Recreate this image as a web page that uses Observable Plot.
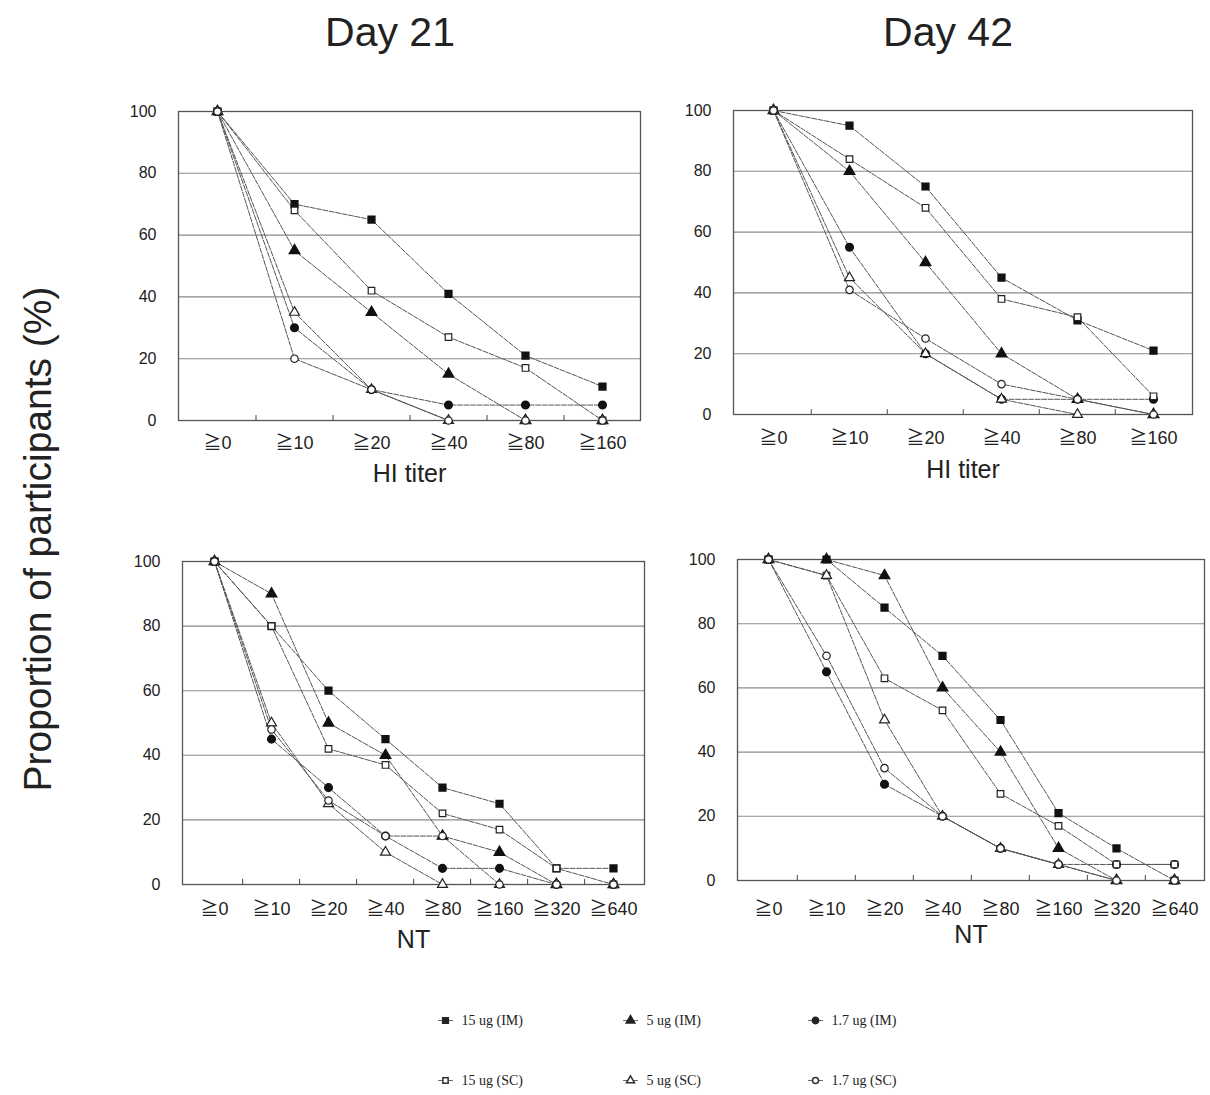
<!DOCTYPE html>
<html><head><meta charset="utf-8">
<script src="https://cdn.jsdelivr.net/npm/d3@7"></script>
<script src="https://cdn.jsdelivr.net/npm/@observablehq/plot@0.6"></script>
<style>
body{margin:0;background:#fff;}
#root{position:relative;width:1210px;height:1095px;overflow:hidden;font-family:"Liberation Sans",Arial,sans-serif;color:#222;}
.abs{position:absolute;}
.title{font-size:41px;transform:translateX(-50%);white-space:nowrap;line-height:1;}
.ylab{font-size:39px;white-space:nowrap;transform:translate(-50%,-50%) rotate(-90deg);line-height:1;}
svg{overflow:visible;}
</style></head><body><div id="root"></div>
<script>
// Categories
const hiTiters = ["≧0","≧10","≧20","≧40","≧80","≧160"];
const ntTiters = ["≧0","≧10","≧20","≧40","≧80","≧160","≧320","≧640"];
const groups = ["15 ug (IM)","5 ug (IM)","1.7 ug (IM)","15 ug (SC)","5 ug (SC)","1.7 ug (SC)"];
const groupSymbols = ["square","triangle","circle","square","triangle","circle"];
const groupFilled = [true,true,true,false,false,false];
const yTicks = [0,20,40,60,80,100];
const gridLines = [20,40,60,80];

// Series values, in groups order: 15IM, 5IM, 1.7IM, 15SC, 5SC, 1.7SC
const day21HI = [
  [100,70,65,41,21,11],
  [100,55,35,15,0,0],
  [100,30,10,5,5,5],
  [100,68,42,27,17,0],
  [100,35,10,0,0,0],
  [100,20,10,0,0,0]
];
const day42HI = [
  [100,95,75,45,31,21],
  [100,80,50,20,5,0],
  [100,55,20,5,5,5],
  [100,84,68,38,32,6],
  [100,45,20,5,0,0],
  [100,41,25,10,5,0]
];
const day21NT = [
  [100,80,60,45,30,25,5,5],
  [100,90,50,40,15,10,0,0],
  [100,45,30,15,5,5,0,0],
  [100,80,42,37,22,17,5,0],
  [100,50,25,10,0,0,0,0],
  [100,48,26,15,15,0,0,0]
];
const day42NT = [
  [100,100,85,70,50,21,10,0],
  [100,100,95,60,40,10,0,0],
  [100,65,30,20,10,5,5,5],
  [100,95,63,53,27,17,5,5],
  [100,95,50,20,10,5,0,0],
  [100,70,35,20,10,5,0,0]
];
const titles = ["Day 21","Day 42"];
const yLabel = "Proportion of participants (%)";
const legendCols = ["15 ug","5 ug","1.7 ug"];
const legendRows = ["IM","SC"];

const root = document.getElementById("root");
const FONT = "'Liberation Sans', Arial, 'Noto Sans CJK JP', sans-serif";

function addDiv(cls, text, x, y){
  const d = document.createElement("div");
  d.className = "abs " + cls; d.textContent = text;
  d.style.left = x + "px"; d.style.top = y + "px";
  root.appendChild(d);
}

function panel({data, titers, fl, fr, ft, fb, label, tickPad, labelDy}){
  const left = fl - 80, top = ft - 20;
  const width = fr - left + 8, height = fb - top + 85;
  const rows = [];
  data.forEach((vals, gi) => vals.forEach((v, i) => rows.push({group: groups[gi], gi, titer: titers[i], value: v})));
  const step = (fr - fl) / titers.length;
  const sym = {domain: groups, range: groupSymbols};
  const p = Plot.plot({
    width, height,
    marginLeft: fl - left, marginRight: width - (fr - left),
    marginTop: ft - top, marginBottom: height - (fb - top),
    style: {fontFamily: FONT, color: "#222", background: "transparent", overflow: "visible"},
    x: {type: "point", domain: titers, padding: 0.5},
    y: {domain: [0, 100]},
    symbol: sym,
    marks: [
      Plot.ruleY(gridLines, {stroke: "#8a8a8a", strokeWidth: 1.1}),
      Plot.frame({stroke: "#555", strokeWidth: 1.3}),
      Plot.ruleX(titers.slice(1), {y1: 0, y2: 1.6, dx: -step / 2, stroke: "#444"}),
      Plot.axisY(yTicks, {tickSize: 0, tickPadding: 22, fontSize: 16, label: null}),
      Plot.axisX({tickSize: 0, tickPadding: tickPad, fontSize: 18, label: null}),
      Plot.text([label], {frameAnchor: "bottom", dy: labelDy, fontSize: 25, fill: "#222"}),
      Plot.line(rows, {x: "titer", y: "value", z: "group", stroke: "#555", strokeWidth: 1, strokeDasharray: "5,1.5"}),
      Plot.dot(rows.filter(d => groupFilled[d.gi]), {x: "titer", y: "value", symbol: "group", r: 3.8, fill: "#111", stroke: "#111"}),
      Plot.dot(rows.filter(d => !groupFilled[d.gi]), {x: "titer", y: "value", symbol: "group", r: 3.7, fill: "white", stroke: "#222", strokeWidth: 1.2})
    ]
  });
  p.style.position = "absolute";
  p.style.left = left + "px"; p.style.top = top + "px";
  root.appendChild(p);
}

addDiv("title", titles[0], 390, 12);
addDiv("title", titles[1], 948, 12);
addDiv("ylab", yLabel, 37, 539);

panel({data: day21HI, titers: hiTiters, fl: 178, fr: 640, ft: 111, fb: 420, label: "HI titer", tickPad: 16, labelDy: 61});
panel({data: day42HI, titers: hiTiters, fl: 733, fr: 1192, ft: 110, fb: 414, label: "HI titer", tickPad: 17, labelDy: 63});
panel({data: day21NT, titers: ntTiters, fl: 182, fr: 644, ft: 561, fb: 884, label: "NT", tickPad: 18, labelDy: 63});
panel({data: day42NT, titers: ntTiters, fl: 737, fr: 1204, ft: 559, fb: 880, label: "NT", tickPad: 22, labelDy: 62});

// Legend
const legendItems = [];
legendRows.forEach((r, ri) => legendCols.forEach((c, ci) => {
  const gi = ri * 3 + ci;
  legendItems.push({col: ci, row: r, gi, group: groups[gi], label: groups[gi]});
}));
const legend = Plot.plot({
  width: 1210, height: 110,
  marginLeft: 445, marginRight: 1210 - 815, marginTop: 25, marginBottom: 25,
  style: {fontFamily: "'Liberation Serif', 'Times New Roman', serif", color: "#222", background: "transparent", overflow: "visible"},
  x: {domain: [0, 2], axis: null},
  y: {type: "point", domain: legendRows, padding: 0, axis: null},
  symbol: {domain: groups, range: groupSymbols},
  marks: [
    Plot.link(legendItems, {x1: d => d.col - 0.04, x2: d => d.col + 0.04, y1: "row", y2: "row", stroke: "#666", strokeWidth: 1}),
    Plot.dot(legendItems.filter(d => groupFilled[d.gi]), {x: "col", y: "row", symbol: "group", r: 3.2, fill: "#222", stroke: "#222"}),
    Plot.dot(legendItems.filter(d => !groupFilled[d.gi]), {x: "col", y: "row", symbol: "group", r: 3, fill: "white", stroke: "#333"}),
    Plot.text(legendItems, {x: "col", y: "row", text: "label", dx: 16, textAnchor: "start", fontSize: 14, fill: "#222"})
  ]
});
legend.style.position = "absolute";
legend.style.left = "0px"; legend.style.top = "995px";
root.appendChild(legend);
</script></body></html>
